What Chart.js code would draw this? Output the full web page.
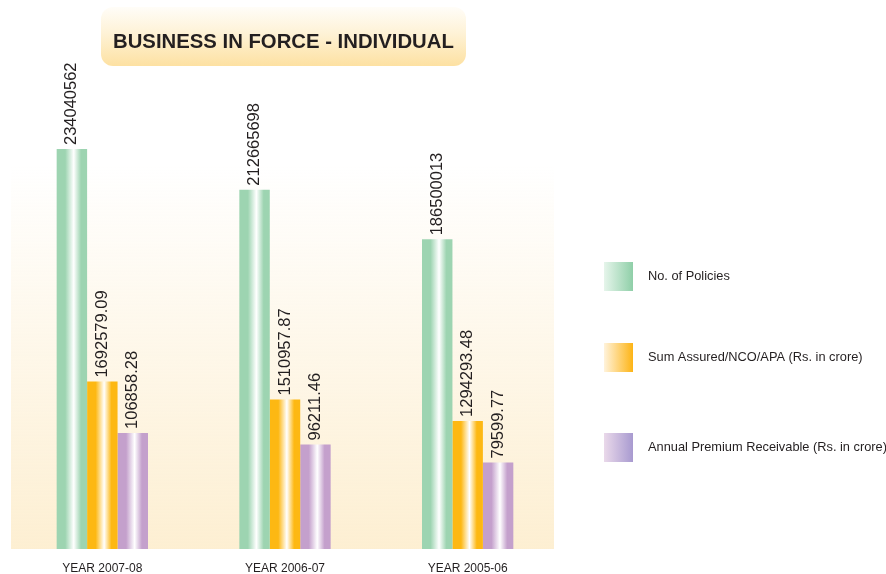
<!DOCTYPE html>
<html><head><meta charset="utf-8">
<script src="https://cdn.jsdelivr.net/npm/chart.js@4.4.0/dist/chart.umd.min.js"></script>
<style>html,body{margin:0;padding:0;background:#fff;}#wrap{width:886px;height:574px;}</style>
</head><body><div id="wrap"><canvas id="c" width="886" height="574"></canvas></div>
<script>
const categories = ['YEAR 2007-08', 'YEAR 2006-07', 'YEAR 2005-06'];
const seriesNames = ['No. of Policies', 'Sum Assured/NCO/APA (Rs. in crore)', 'Annual Premium Receivable (Rs. in crore)'];
const policies = [234040562, 212665698, 186500013];
const sumAssured = [1692579.09, 1510957.87, 1294293.48];
const annualPremium = [106858.28, 96211.46, 79599.77];
const policiesLabels = ['234040562', '212665698', '186500013'];
const sumAssuredLabels = ['1692579.09', '1510957.87', '1294293.48'];
const annualPremiumLabels = ['106858.28', '96211.46', '79599.77'];
const chartTitle = 'BUSINESS IN FORCE - INDIVIDUAL';

const FONT = "'Liberation Sans', Arial, Helvetica, sans-serif";
const TEXT = '#231f20';
const barColors = ['#9dd4b1', '#fdb813', '#c4a0cc'];
const legendGrad = [['#e6f5eb', '#8fcfa8'], ['#fff3dc', '#fdb415'], ['#ead9ea', '#a89ad0']];
const CAT_PCT = 0.5, BAR_PCT = 1.0;

function barGradient(ctx, color) {
  const chart = ctx.chart;
  const xs = chart.scales && chart.scales.x;
  if (ctx.type !== 'data' || !chart.chartArea || !xs) return color;
  const center = xs.getPixelForValue(ctx.dataIndex);
  const cat = (xs.right - xs.left) / categories.length;
  const bw = cat * CAT_PCT * BAR_PCT / 3;
  const left = center - cat * CAT_PCT / 2 + ctx.datasetIndex * bw;
  const g = chart.ctx.createLinearGradient(left, 0, left + bw, 0);
  g.addColorStop(0, color);
  g.addColorStop(0.28, color);
  g.addColorStop(0.56, '#ffffff');
  g.addColorStop(0.8, color);
  g.addColorStop(1, color);
  return g;
}

const allLabels = [policiesLabels, sumAssuredLabels, annualPremiumLabels];

const deco = {
  id: 'deco',
  beforeDraw(chart) {
    const { ctx, chartArea: a } = chart;
    ctx.save();
    const g = ctx.createLinearGradient(0, 165, 0, a.bottom);
    g.addColorStop(0, 'rgba(253,239,210,0)');
    g.addColorStop(1, 'rgba(253,239,210,1)');
    ctx.fillStyle = g;
    ctx.fillRect(a.left, 150, 554 - a.left, a.bottom - 150);
    ctx.restore();
  },
  afterDatasetsDraw(chart) {
    const ctx = chart.ctx;
    ctx.save();
    ctx.font = '16.5px ' + FONT;
    ctx.fillStyle = TEXT;
    ctx.textAlign = 'left';
    ctx.textBaseline = 'middle';
    chart.data.datasets.forEach((ds, di) => {
      const meta = chart.getDatasetMeta(di);
      meta.data.forEach((el, i) => {
        ctx.save();
        ctx.translate(el.x, el.y - 4);
        ctx.rotate(-Math.PI / 2);
        ctx.fillText(allLabels[di][i], 0, 0);
        ctx.restore();
      });
    });
    ctx.restore();
  },
  afterDraw(chart) {
    const ctx = chart.ctx;
    ctx.save();
    const bx = 101, by = 7, bw = 365, bh = 59;
    const g = ctx.createLinearGradient(0, by, 0, by + bh);
    g.addColorStop(0, '#fffdf8');
    g.addColorStop(0.45, '#fef2d6');
    g.addColorStop(1, '#fde1a2');
    ctx.fillStyle = g;
    ctx.beginPath();
    ctx.roundRect(bx, by, bw, bh, 12);
    ctx.fill();
    ctx.fillStyle = TEXT;
    ctx.font = 'bold 20px ' + FONT;
    const w = ctx.measureText(chartTitle).width;
    const size = 20 * 341 / w;
    ctx.font = 'bold ' + size.toFixed(2) + 'px ' + FONT;
    ctx.textAlign = 'left';
    ctx.textBaseline = 'middle';
    ctx.fillText(chartTitle, 113, 42);
    const tops = [262, 343, 433];
    ctx.font = '12.8px ' + FONT;
    chart.data.datasets.forEach((ds, i) => {
      const y = tops[i];
      const lg = ctx.createLinearGradient(604, 0, 633, 0);
      lg.addColorStop(0, legendGrad[i][0]);
      lg.addColorStop(1, legendGrad[i][1]);
      ctx.fillStyle = lg;
      ctx.fillRect(604, y, 29, 29);
      ctx.fillStyle = TEXT;
      ctx.fillText(ds.label, 648, y + 14.5);
    });
    ctx.restore();
  }
};

new Chart(document.getElementById('c'), {
  type: 'bar',
  data: {
    labels: categories,
    datasets: [
      { label: seriesNames[0], data: policies, yAxisID: 'yPol', backgroundColor: c => barGradient(c, barColors[0]) },
      { label: seriesNames[1], data: sumAssured, yAxisID: 'ySum', backgroundColor: c => barGradient(c, barColors[1]) },
      { label: seriesNames[2], data: annualPremium, yAxisID: 'yPrem', backgroundColor: c => barGradient(c, barColors[2]) }
    ]
  },
  options: {
    responsive: false,
    animation: false,
    devicePixelRatio: 1,
    categoryPercentage: CAT_PCT,
    barPercentage: BAR_PCT,
    layout: { padding: { left: 11, right: 327, top: 20, bottom: 0 } },
    plugins: { legend: { display: false }, tooltip: { enabled: false }, title: { display: false } },
    scales: {
      x: {
        grid: { display: false, drawTicks: false },
        border: { display: false },
        ticks: { color: TEXT, font: { family: FONT, size: 12 }, padding: 12, maxRotation: 0 },
        afterFit(s) { s.height = 25; }
      },
      yPol: { display: false, min: 23.4e6, max: 302e6 },
      ySum: { display: false, min: 0, max: 5.348e6 },
      yPrem: { display: false, min: 0, max: 486940 }
    }
  },
  plugins: [deco]
});
</script>
</body></html>
